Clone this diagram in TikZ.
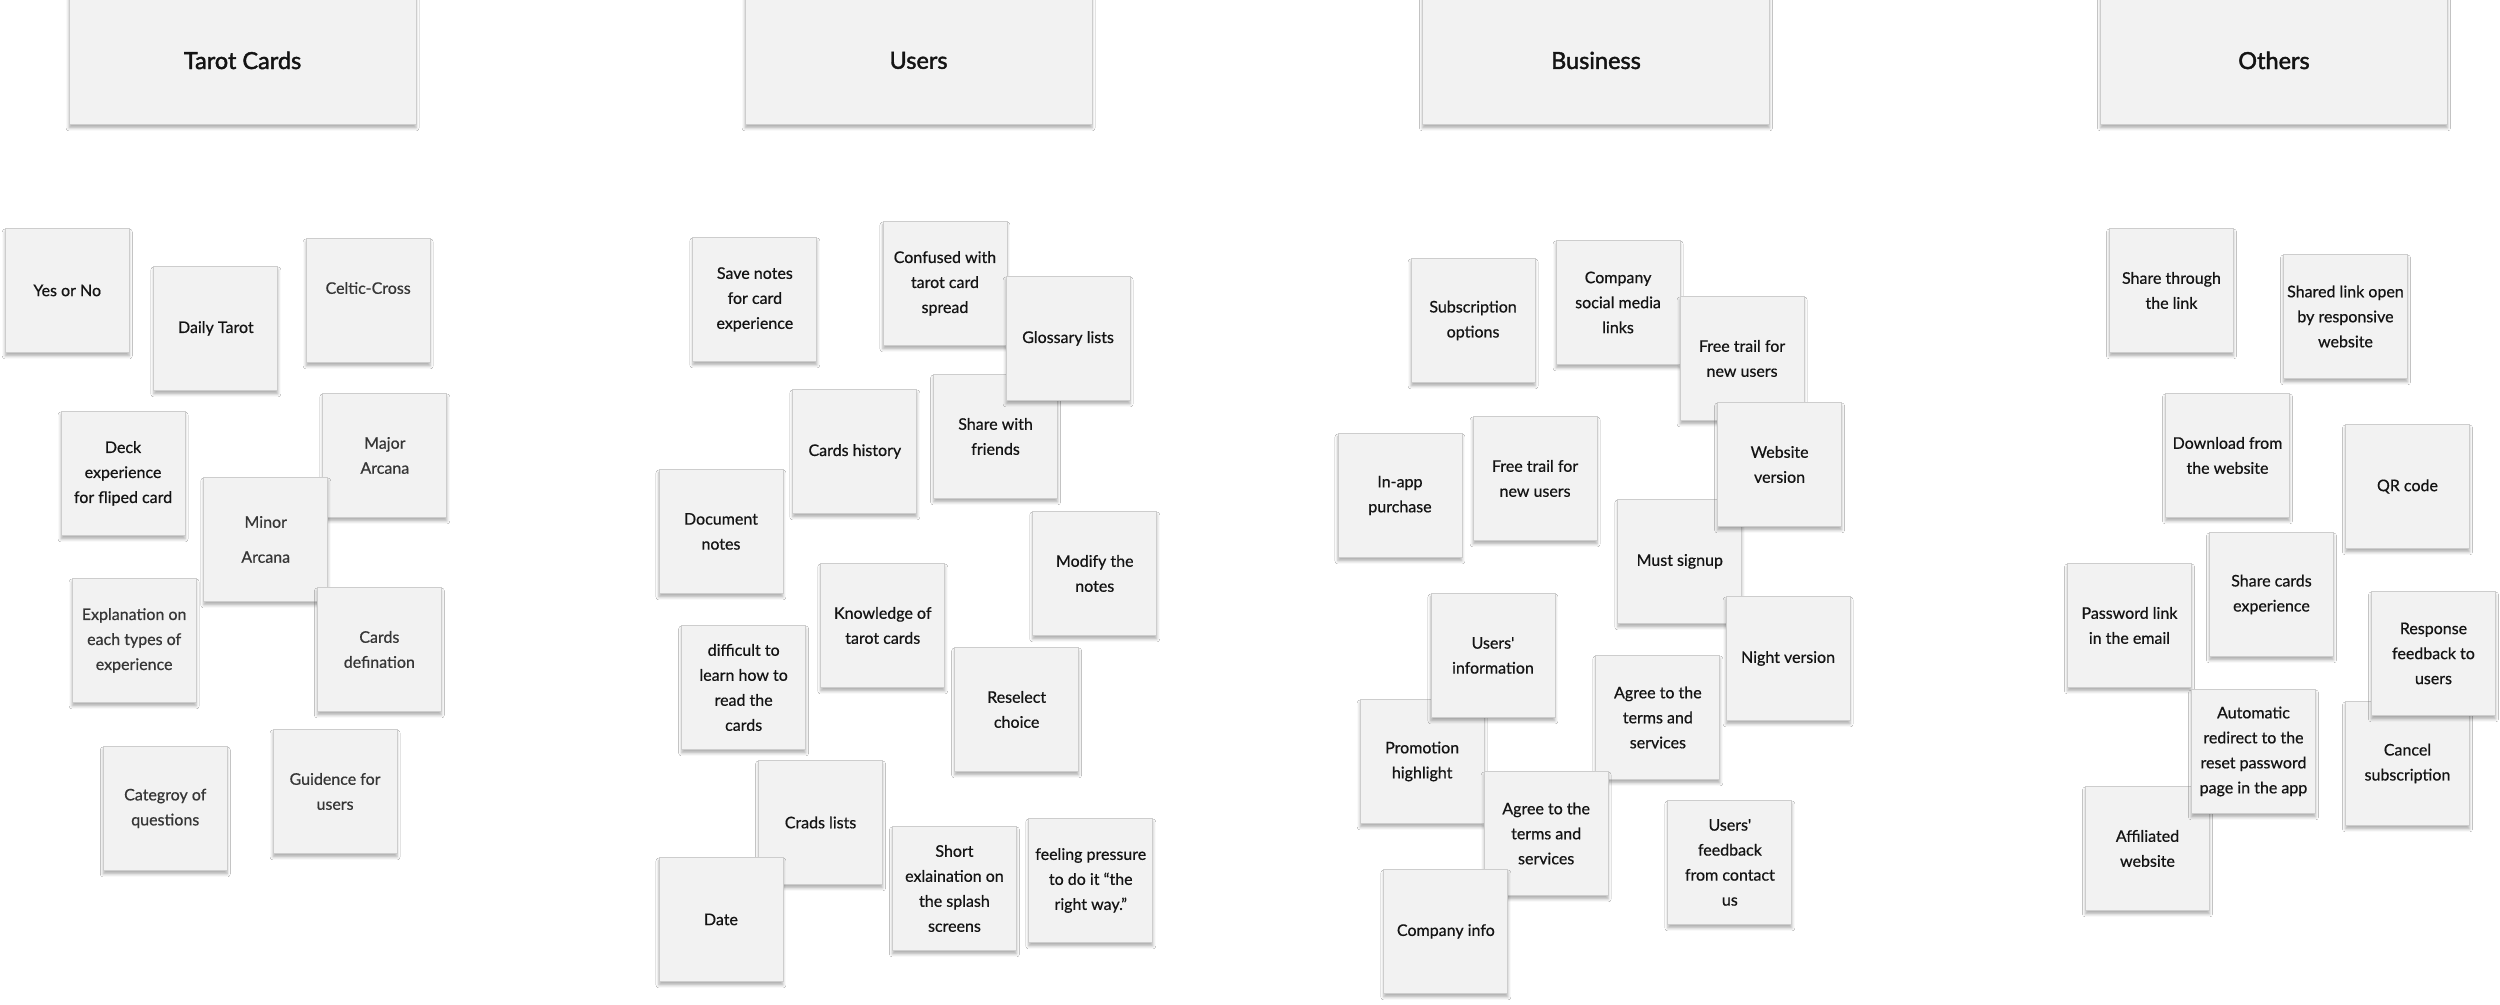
\documentclass[tikz,border=0pt]{standalone}
\usepackage{fontspec}
\setmainfont{Lato}
\newfontfamily\cardfont[FakeBold=0.6]{Lato}
\newfontfamily\headfont[FakeBold=1.8]{Lato}
\usetikzlibrary{shadows.blur}
\definecolor{cardfill}{HTML}{F2F2F2}
\definecolor{cardline}{HTML}{CDCDCD}
\definecolor{ink}{HTML}{141414}
\definecolor{inkgray}{HTML}{363636}
\tikzset{
  card/.style={draw=cardline, fill=cardfill, line width=0.9pt, inner sep=0pt,
    anchor=north west, minimum width=124pt, minimum height=124pt,
    align=center, text=ink,
    font=\cardfont\fontsize{16}{25}\selectfont,
    blur shadow={shadow xshift=0pt, shadow yshift=-3.5pt, shadow blur radius=3pt, shadow opacity=32}},
  soft/.style={text=inkgray},
  headcard/.style={card, minimum width=347pt, minimum height=128pt,
    font=\headfont\fontsize{23.5}{28}\selectfont}
}
\begin{document}
\begin{tikzpicture}[x=1pt,y=-1pt]
\useasboundingbox[fill=white] (0,0) rectangle (2500,1004);
% titles
\node[headcard] (hTarot) at (68.6,-4) {Tarot Cards};
\node[headcard] (hUsers) at (744.6,-4) {Users};
\node[headcard] (hBusiness) at (1422,-4) {Business};
\node[headcard] (hOthers) at (2100,-4) {Others};
% Tarot Cards column
\node[card] (tYes) at (4.8,228) {Yes or No};
\node[card] (tDaily) at (153.4,266) {Daily Tarot};
\node[card,soft] (tCeltic) at (305.7,238) {Celtic-Cross\\\mbox{}};
\node[card,soft] (tMajor) at (322.4,393) {Major\\Arcana};
\node[card] (tDeck) at (60.6,411) {Deck\\experience\\for fliped card};
\node[card,soft] (tMinor) at (203.3,477) {Minor\\[10pt]Arcana};
\node[card,soft] (tExpl) at (71.7,578) {Explanation on\\each types of\\experience};
\node[card,soft] (tDef) at (316.9,587) {Cards\\defination};
\node[card,soft] (tCat) at (102.8,746) {Categroy of\\questions};
\node[card,soft] (tGuide) at (272.6,729) {Guidence for\\users};
% Users column
\node[card] (uSave) at (692.4,237) {Save notes\\for card\\experience};
\node[card] (uConf) at (882.5,221) {Confused with\\tarot card\\spread};
\node[card] (uShare) at (933.1,374) {Share with\\friends};
\node[card] (uGloss) at (1005.6,276) {Glossary lists};
\node[card] (uHist) at (792.4,389) {Cards history};
\node[card] (uDoc) at (658.5,469) {Document\\notes};
\node[card] (uMod) at (1032.3,511) {Modify the\\notes};
\node[card] (uKnow) at (820.3,563) {Knowledge of\\tarot cards};
\node[card] (uDiff) at (681.2,625) {difficult to\\learn how to\\read the\\cards};
\node[card] (uResel) at (954.2,647) {Reselect\\choice};
\node[card] (uCrads) at (758.1,760) {Crads lists};
\node[card] (uDate) at (658.5,857) {Date};
\node[card] (uShort) at (892,826) {Short\\exlaination on\\the splash\\screens};
\node[card] (uFeel) at (1028.3,818) {feeling pressure\\to do it “the\\right way.”};
% Business column
\node[card] (bSub) at (1410.6,258) {Subscription\\options};
\node[card] (bSocial) at (1555.6,240) {Company\\social media\\links};
\node[card] (bFreeR) at (1679.6,296) {Free trail for\\new users};
\node[card] (bInapp) at (1337.5,433) {In-app\\purchase};
\node[card] (bFreeL) at (1472.6,416) {Free trail for\\new users};
\node[card] (bSignup) at (1617.3,499) {Must signup};
\node[card] (bWeb) at (1717.1,402) {Website\\version};
\node[card] (bNight) at (1725.6,596) {Night version};
\node[card] (bPromo) at (1359.7,699) {Promotion\\highlight};
\node[card] (bInfo) at (1430.5,593) {Users'\\information};
\node[card] (bAgreeR) at (1595.4,655) {Agree to the\\terms and\\services};
\node[card] (bAgreeL) at (1483.7,771) {Agree to the\\terms and\\services};
\node[card] (bComp) at (1383.4,869) {Company info};
\node[card] (bFeed) at (1667.4,800) {Users'\\feedback\\from contact\\us};
% Others column
\node[card] (oLink) at (2109,228) {Share through\\the link};
\node[card] (oShared) at (2283,254) {Shared link open\\by responsive\\website};
\node[card] (oDown) at (2165,393) {Download from\\the website};
\node[card] (oQR) at (2345,424) {QR code};
\node[card] (oPass) at (2067,563) {Password link\\in the email};
\node[card] (oShareCards) at (2209,532) {Share cards\\experience};
\node[card] (oCancel) at (2345,701) {Cancel\\subscription};
\node[card] (oResp) at (2371,591) {Response\\feedback to\\users};
\node[card] (oAff) at (2085,786) {Affiliated\\website};
\node[card] (oAuto) at (2191,689) {Automatic\\redirect to the\\reset password\\page in the app};
\end{tikzpicture}
\end{document}
